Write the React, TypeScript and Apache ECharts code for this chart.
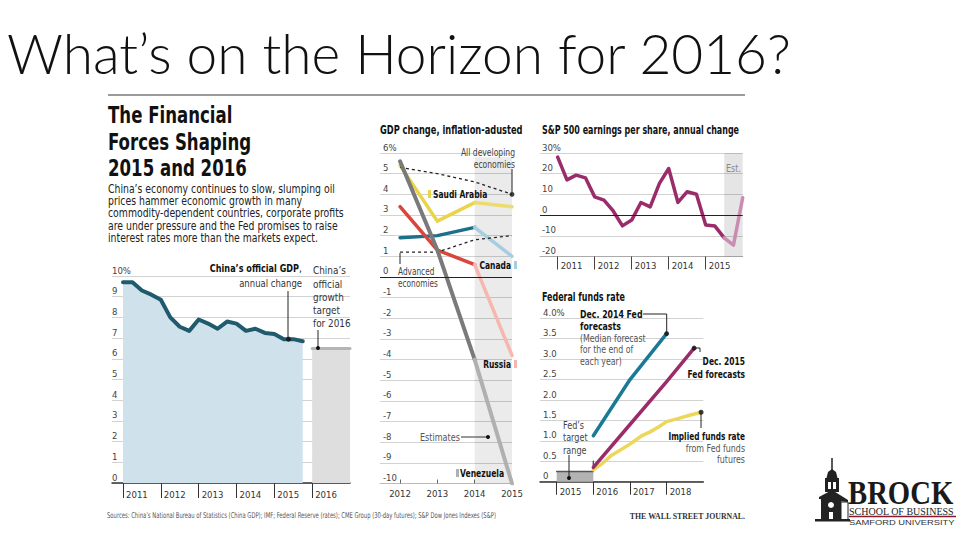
import React, { useEffect, useRef } from "react";
import * as echarts from "echarts";

const NARROW = "'Liberation Sans Narrow','DejaVu Sans Condensed','Liberation Sans',sans-serif";
const SERIF = "'Liberation Serif','DejaVu Serif',serif";

// ---------- China GDP (quarterly, annual change, %) ----------
const chinaQuarters = [
  2011, 2011.25, 2011.5, 2011.75, 2012, 2012.25, 2012.5, 2012.75, 2013, 2013.25,
  2013.5, 2013.75, 2014, 2014.25, 2014.5, 2014.75, 2015, 2015.25, 2015.5, 2015.75,
];
const chinaGdp = [
  9.7, 9.7, 9.3, 9.1, 8.85, 8.0, 7.55, 7.35, 7.9, 7.7,
  7.45, 7.8, 7.7, 7.35, 7.45, 7.25, 7.2, 6.95, 6.95, 6.85,
];
const chinaTarget2016 = 6.5;
const chinaTickYears = [2011, 2012, 2013, 2014, 2015, 2016];

// ---------- GDP change, inflation-adjusted ----------
const gdpYears = [2012, 2013, 2014, 2015];
const venezuela = [5.6, 1.3, -4.0, -10.0];
const saudiArabia = [5.4, 2.7, 3.6, 3.4];
const canada = [1.9, 2.0, 2.4, 1.0];
const russia = [3.4, 1.3, 0.6, -3.8];
const advancedEconomies = [1.2, 1.2, 1.8, 2.0];
const developingEconomies = [5.3, 5.0, 4.6, 4.0];

// ---------- S&P 500 EPS annual change ----------
const spQuarters = [
  2011, 2011.25, 2011.5, 2011.75, 2012, 2012.25, 2012.5, 2012.75, 2013, 2013.25, 2013.5,
  2013.75, 2014, 2014.25, 2014.5, 2014.75, 2015, 2015.25, 2015.5, 2015.75, 2016,
];
const spEps = [
  28, 17, 19.3, 18, 8.8, 7.2, 2, -5.2, -2.4, 6.1, 4,
  15.3, 22.5, 6.1, 11.3, 10.1, -4.8, -5.3, -11, -14.5, 8.4,
];
const spEstimateStart = 18;
const spTickYears = [2011, 2012, 2013, 2014, 2015];

// ---------- Federal funds rate ----------
const fedTickYears = [2015, 2016, 2017, 2018];
const fedTargetRange = [0.25, 0.5];
const dec2014Years = [2016, 2017, 2018];
const dec2014 = [1.125, 2.5, 3.625];
const dec2015Years = [2016, 2017, 2018, 2018.75];
const dec2015 = [0.35, 1.4, 2.45, 3.27];
const impliedYears = [2016, 2016.25, 2016.5, 2016.75, 2017, 2017.33, 2017.55, 2017.8, 2018, 2018.33, 2018.6, 2018.94];
const implied = [0.29, 0.45, 0.65, 0.78, 0.92, 1.13, 1.22, 1.35, 1.47, 1.55, 1.62, 1.7];

const pairs = (xs: number[], ys: number[]) => xs.map((x, i) => [x, ys[i]]);

function T(x: number, y: number, text: string, o: any = {}) {
  return {
    type: "text",
    x,
    y,
    z: 100,
    scaleX: o.sx ?? 1,
    silent: true,
    style: {
      text,
      fontFamily: o.family || NARROW,
      fontSize: o.size || 10,
      fontWeight: o.weight || "normal",
      fill: o.color || "#333",
      align: o.align || "left",
      verticalAlign: "middle",
    },
  };
}
function L(x1: number, y1: number, x2: number, y2: number, color = "#222", w = 1) {
  return { type: "line", z: 100, silent: true, shape: { x1, y1, x2, y2 }, style: { stroke: color, lineWidth: w } };
}
function R(x: number, y: number, width: number, height: number, color: string) {
  return { type: "rect", z: 100, silent: true, shape: { x, y, width, height }, style: { fill: color } };
}
function C(cx: number, cy: number, r: number, color = "#111") {
  return { type: "circle", z: 100, silent: true, shape: { cx, cy, r }, style: { fill: color } };
}

function xa(gridIndex: number, min: number, max: number, ticks: number[], o: any) {
  return {
    type: "value",
    gridIndex,
    min,
    max,
    axisLine: { show: true, onZero: false, lineStyle: { color: o.lineColor, width: o.lineWidth } },
    axisTick: {
      show: true,
      customValues: ticks,
      inside: !!o.tickInside,
      length: o.tickLen,
      lineStyle: { color: o.tickColor, width: 1 },
    },
    axisLabel: {
      customValues: ticks,
      formatter: (v: number) => String(Math.round(v)),
      align: o.labelAlign,
      padding: o.labelPad,
      margin: o.labelMargin,
      fontSize: 9.5,
      color: "#333",
      fontFamily: NARROW,
    },
    splitLine: { show: false },
  };
}
function ya(gridIndex: number, min: number, max: number, interval: number, fmt: any, margin: number) {
  return {
    type: "value",
    gridIndex,
    min,
    max,
    interval,
    axisLine: { show: false },
    axisTick: { show: false },
    axisLabel: {
      inside: true,
      margin,
      align: "left",
      verticalAlign: "bottom",
      padding: [0, 0, 1, 0],
      formatter: fmt,
      fontSize: 9.5,
      color: "#444",
      fontFamily: NARROW,
    },
    splitLine: { lineStyle: { color: "#d2d2d2", width: 1 } },
  };
}

function line(xi: number, data: any[], color: string, width: number, extra: any = {}) {
  return {
    type: "line",
    xAxisIndex: xi,
    yAxisIndex: xi,
    data,
    symbol: "none",
    lineStyle: { color, width, cap: "round", join: "round" },
    silent: true,
    ...extra,
  };
}

function countrySeries(vals: number[], dark: string, light: string, width: number, extra: any = {}) {
  return [
    line(1, pairs(gdpYears.slice(0, 3), vals.slice(0, 3)), dark, width, extra),
    line(1, pairs(gdpYears.slice(2), vals.slice(2)), light, width),
  ];
}

export default function App() {
  const ref = useRef<HTMLDivElement>(null);
  useEffect(() => {
    if (!ref.current) return;
    const chart = echarts.init(ref.current, undefined, { renderer: "svg" });

    const B = { weight: "bold", color: "#111" };
    const G: any[] = [];
    // slide title
    G.push(T(7, 53, "What’s on the Horizon for 2016?", { family: "Lato,'Open Sans',sans-serif", size: 55, weight: 300, color: "#111" }));
    G.push(L(108, 95, 745, 95, "#9a9a9a", 2));

    // left panel title + body
    ["The Financial", "Forces Shaping", "2015 and 2016"].forEach((s, i) =>
      G.push(T(108, [115, 142.5, 168][i], s, { size: 22.5, ...B, sx: 0.82 }))
    );
    [
      "China’s economy continues to slow, slumping oil",
      "prices hammer economic growth in many",
      "commodity-dependent countries, corporate profits",
      "are under pressure and the Fed promises to raise",
      "interest rates more than the markets expect.",
    ].forEach((s, i) => G.push(T(108, [189, 201.3, 213.6, 226, 238][i], s, { size: 11.5, color: "#222", sx: 0.9 })));

    // China labels
    G.push(T(299, 268, "China’s official GDP", { size: 10.5, ...B, align: "right", sx: 0.86 }));
    G.push(T(299, 268, ",", { size: 10.5, color: "#111" }));
    G.push(T(302, 283, "annual change", { size: 10.5, color: "#333", align: "right", sx: 0.9 }));
    ["China’s", "official", "growth", "target", "for 2016"].forEach((s, i) =>
      G.push(T(313, [270, 283.3, 296.7, 310, 322.7][i], s, { size: 11, color: "#333", sx: 0.9 }))
    );
    G.push(L(288, 291, 288, 338, "#222", 1));
    G.push(L(318, 330, 318, 347, "#222", 1));
    G.push(C(318, 348, 2));

    // GDP change panel
    G.push(T(380, 130, "GDP change, inflation-adusted", { size: 11.5, ...B, sx: 0.8 }));
    G.push(T(515, 152, "All developing", { size: 10, color: "#444", align: "right", sx: 0.85 }));
    G.push(T(515, 164, "economies", { size: 10, color: "#444", align: "right", sx: 0.85 }));
    G.push(L(512, 169, 512, 192, "#222", 1));
    G.push(R(428, 190, 3, 8, "#e9d44c"));
    G.push(T(433, 194, "Saudi Arabia", { size: 10.5, ...B, sx: 0.8 }));
    G.push(T(511, 265, "Canada", { size: 10.5, ...B, align: "right", sx: 0.8 }));
    G.push(R(514, 261, 3, 8, "#a6cde0"));
    G.push(L(400, 253, 400, 264, "#222", 1));
    G.push(T(398, 272, "Advanced", { size: 10, color: "#444", sx: 0.82 }));
    G.push(T(398, 284, "economies", { size: 10, color: "#444", sx: 0.82 }));
    G.push(T(511, 364, "Russia", { size: 10.5, ...B, align: "right", sx: 0.8 }));
    G.push(R(514, 360, 3, 8, "#f5b7ae"));
    G.push(T(420, 437, "Estimates", { size: 10, color: "#555", sx: 0.9 }));
    G.push(L(461, 437, 487, 437, "#333", 1));
    G.push(C(488, 437, 2));
    G.push(R(456, 469, 3, 8, "#b0b0b0"));
    G.push(T(460, 473, "Venezuela", { size: 10.5, ...B, sx: 0.81 }));

    // S&P panel
    G.push(T(542, 130, "S&P 500 earnings per share, annual change", { size: 11.5, ...B, sx: 0.77 }));
    G.push(T(726, 168, "Est.", { size: 10, color: "#888", sx: 0.9 }));

    // Fed panel
    G.push(T(542, 297, "Federal funds rate", { size: 11.5, ...B, sx: 0.77 }));
    G.push(T(580, 314, "Dec. 2014 Fed", { size: 10.5, ...B, sx: 0.83 }));
    G.push(T(580, 326.5, "forecasts", { size: 10.5, ...B, sx: 0.83 }));
    G.push(T(580, 338.5, "(Median forecast", { size: 10, color: "#555", sx: 0.87 }));
    G.push(T(580, 349.5, "for the end of", { size: 10, color: "#555", sx: 0.87 }));
    G.push(T(580, 361, "each year)", { size: 10, color: "#555", sx: 0.87 }));
    G.push({ type: "polyline", z: 100, silent: true, shape: { points: [[643, 314], [666.7, 314], [666.7, 332]] }, style: { stroke: "#222", lineWidth: 1, fill: null } });
    G.push(T(745, 361, "Dec. 2015", { size: 10.5, ...B, align: "right", sx: 0.8 }));
    G.push(T(745, 374, "Fed forecasts", { size: 10.5, ...B, align: "right", sx: 0.8 }));
    G.push({ type: "polyline", z: 100, silent: true, shape: { points: [[695, 348], [700, 348], [700, 352]] }, style: { stroke: "#222", lineWidth: 1, fill: null } });
    ["Fed’s", "target", "range"].forEach((s, i) => G.push(T(563, [425, 437.5, 450][i], s, { size: 10, color: "#444", sx: 0.9 })));
    G.push(L(569, 455, 569, 477, "#222", 1));
    G.push(C(569, 478, 2));
    G.push(T(745, 436, "Implied funds rate", { size: 10.5, ...B, align: "right", sx: 0.78 }));
    G.push(T(745, 448, "from Fed funds", { size: 10, color: "#555", align: "right", sx: 0.88 }));
    G.push(T(745, 459.5, "futures", { size: 10, color: "#555", align: "right", sx: 0.88 }));
    G.push(L(701, 413, 701, 428, "#222", 1));

    // footer
    G.push(
      T(107, 516, "Sources: China’s National Bureau of Statistics (China GDP); IMF; Federal Reserve (rates); CME Group (30-day futures); S&P Dow Jones Indexes (S&P)", {
        size: 8,
        color: "#555",
        sx: 0.73,
      })
    );
    G.push(T(745, 516, "THE WALL STREET JOURNAL.", { family: SERIF, size: 8.5, weight: "bold", color: "#333", align: "right", sx: 0.92 }));

    // logo
    G.push(L(832, 458, 832, 470, "#222", 1.5));
    G.push({ type: "polygon", z: 100, silent: true, shape: { points: [[826.5, 478], [828, 472], [832, 469], [836, 472], [837.5, 478]] }, style: { fill: "#222" } });
    G.push(R(825, 478, 14, 14, "#222"));
    G.push(R(828, 482, 3, 7, "#fff"));
    G.push(R(833, 482, 3, 7, "#fff"));
    G.push({ type: "polygon", z: 100, silent: true, shape: { points: [[819, 497], [832, 490], [848, 500], [848, 502], [819, 499]] }, style: { fill: "#222" } });
    G.push(R(821, 499, 20, 21, "#222"));
    G.push({ type: "circle", z: 101, silent: true, shape: { cx: 831, cy: 505, r: 3 }, style: { fill: "#fff" } });
    G.push(R(829, 512, 4, 8, "#fff"));
    G.push({ type: "rect", z: 100, silent: true, shape: { x: 841, y: 502, width: 7, height: 18 }, style: { fill: "#fff", stroke: "#222", lineWidth: 1 } });
    G.push(R(815, 519, 35, 2.5, "#222"));
    G.push(T(848, 493, "BROCK", { family: SERIF, size: 33, weight: "bold", color: "#1a1a1a", sx: 0.87 }));
    G.push(T(849, 511, "SCHOOL OF BUSINESS", { family: SERIF, size: 10, color: "#222" }));
    G.push(L(849, 516.5, 956, 516.5, "#8b1a2b", 1.5));
    G.push(T(849, 522, "SAMFORD UNIVERSITY", { family: "'Liberation Sans',sans-serif", size: 7.5, color: "#333", sx: 1.25 }));

    const series: any[] = [
      // China GDP
      line(0, pairs(chinaQuarters, chinaGdp), "#1f5a6d", 4, {
        areaStyle: { color: "#cfe2ec", opacity: 1 },
        markArea: {
          silent: true,
          itemStyle: { color: "#dedede" },
          data: [[{ coord: [2016, 0] }, { coord: [2017, chinaTarget2016] }]],
        },
      }),
      line(0, [[2016, chinaTarget2016], [2017, chinaTarget2016]], "#b5b5b5", 3),
      { type: "scatter", xAxisIndex: 0, yAxisIndex: 0, data: [[2015.375, 6.95]], symbolSize: 5, itemStyle: { color: "#111" }, silent: true, z: 10 },

      // GDP change
      ...countrySeries(saudiArabia, "#e9d44c", "#eddc6c", 3.5, {
        markArea: {
          silent: true,
          itemStyle: { color: "rgba(0,0,0,0.08)" },
          data: [[{ coord: [2014, 5.8] }, { coord: [2015, -10] }]],
        },
        markLine: {
          silent: true,
          symbol: "none",
          label: { show: false },
          lineStyle: { color: "#222", width: 1.2, type: "solid" },
          data: [{ yAxis: 0 }],
        },
      }),
      ...countrySeries(canada, "#1d6f8a", "#a6cde0", 3.5),
      ...countrySeries(russia, "#d8463c", "#f5b7ae", 3.5),
      line(1, pairs(gdpYears, advancedEconomies), "#222", 1.3, { lineStyle: { color: "#222", width: 1.3, type: [3, 3] } }),
      line(1, pairs(gdpYears, developingEconomies), "#222", 1.3, { lineStyle: { color: "#222", width: 1.3, type: [3, 3] } }),
      ...countrySeries(venezuela, "#7a7a7a", "#b0b0b0", 4),
      { type: "scatter", xAxisIndex: 1, yAxisIndex: 1, data: [[2015, developingEconomies[3]]], symbolSize: 5, itemStyle: { color: "#111" }, silent: true, z: 10 },

      // S&P
      line(2, pairs(spQuarters.slice(0, spEstimateStart + 1), spEps.slice(0, spEstimateStart + 1)), "#9a2c6a", 3.5, {
        markArea: {
          silent: true,
          itemStyle: { color: "rgba(0,0,0,0.1)" },
          data: [[{ coord: [2015.5, 30] }, { coord: [2016, -20] }]],
        },
        markLine: {
          silent: true,
          symbol: "none",
          label: { show: false },
          lineStyle: { color: "#222", width: 1.2, type: "solid" },
          data: [{ yAxis: 0 }],
        },
      }),
      line(2, pairs(spQuarters.slice(spEstimateStart), spEps.slice(spEstimateStart)), "#c98db2", 3.5),

      // Fed
      line(3, [[2015, fedTargetRange[0]], [2016, fedTargetRange[0]], [2016, fedTargetRange[1]]], "#555", 1.5, {
        markArea: {
          silent: true,
          itemStyle: { color: "#b3b3b3" },
          data: [[{ coord: [2015, 0] }, { coord: [2016, fedTargetRange[0]] }]],
        },
      }),
      line(3, pairs(impliedYears, implied), "#ecd75a", 3.5),
      line(3, pairs(dec2015Years, dec2015), "#9a2c6a", 3.5),
      line(3, pairs(dec2014Years, dec2014), "#1a7a95", 3.5),
      {
        type: "scatter",
        xAxisIndex: 3,
        yAxisIndex: 3,
        data: [
          [dec2014Years[dec2014Years.length - 1], dec2014[dec2014.length - 1]],
          [dec2015Years[dec2015Years.length - 1], dec2015[dec2015.length - 1]],
          [impliedYears[impliedYears.length - 1], implied[implied.length - 1]],
        ],
        symbolSize: 5,
        itemStyle: { color: "#111" },
        silent: true,
        z: 10,
      },
    ];

    const option: any = {
      animation: false,
      backgroundColor: "#ffffff",
      textStyle: { fontFamily: NARROW },
      grid: [
        { left: 112, top: 276, width: 238, height: 207 },
        { left: 380, top: 153, width: 132, height: 330.5 },
        { left: 540, top: 153, width: 202.7, height: 103.5 },
        { left: 540, top: 318.3, width: 163.3, height: 163.4 },
      ],
      xAxis: [
        xa(0, 2010.709, 2017, chinaTickYears, { lineColor: "#333", lineWidth: 1.5, tickLen: 15, tickColor: "#333", labelAlign: "left", labelPad: [0, 0, 0, 3], labelMargin: 6 }),
        xa(1, 2011.463, 2015, gdpYears, { lineColor: "#bbb", lineWidth: 1, tickLen: 4, tickInside: true, tickColor: "#666", labelAlign: "center", labelPad: [0, 0, 0, 0], labelMargin: 5 }),
        xa(2, 2010.522, 2016, spTickYears, { lineColor: "#aaa", lineWidth: 1, tickLen: 13, tickColor: "#444", labelAlign: "left", labelPad: [0, 0, 0, 3], labelMargin: 4 }),
        xa(3, 2014.545, 2019, fedTickYears, { lineColor: "#333", lineWidth: 1.5, tickLen: 13, tickColor: "#333", labelAlign: "left", labelPad: [0, 0, 0, 3], labelMargin: 5 }),
      ],
      yAxis: [
        ya(0, 0, 10, 1, (v: number) => (v === 10 ? "10%" : String(v)), 0),
        ya(1, -10, 6, 1, (v: number) => (v === 6 ? "6%" : String(v)), 3),
        ya(2, -20, 30, 10, (v: number) => (v === 30 ? "30%" : String(v)), 2),
        ya(3, 0, 4, 0.5, (v: number) => (v === 4 ? "4.0%" : v === 0 ? "0" : v.toFixed(1)), 3),
      ],
      series,
      graphic: { elements: G },
    };
    chart.setOption(option);
    return () => chart.dispose();
  }, []);
  return <div ref={ref} style={{ position: "absolute", left: 0, top: 0, width: 960, height: 540 }} />;
}
